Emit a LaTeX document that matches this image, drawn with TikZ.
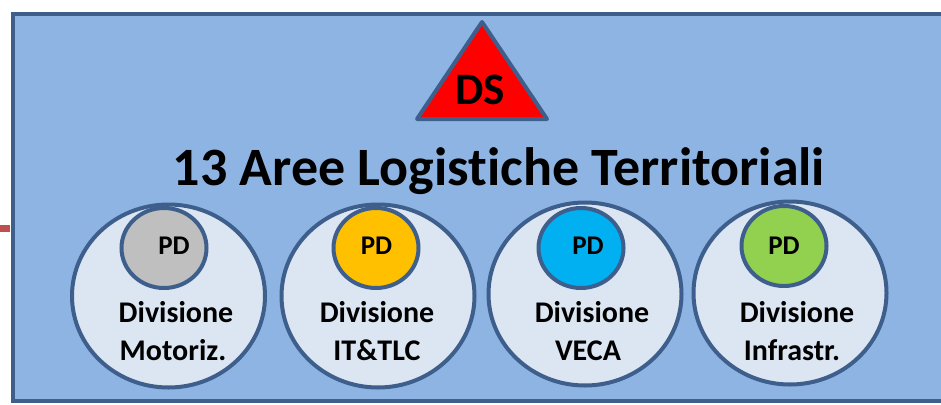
\documentclass[tikz,border=0pt]{standalone}
\usepackage{fontspec}
\setmainfont[Ligatures={NoCommon}]{Carlito}
\usetikzlibrary{shapes.geometric}
\definecolor{bgblue}{HTML}{8EB4E3}
\definecolor{edgeblue}{HTML}{3E5F8C}
\definecolor{paleblue}{HTML}{DCE6F2}
\definecolor{pdgray}{HTML}{BFBFBF}
\definecolor{pdyellow}{HTML}{FFC000}
\definecolor{pdcyan}{HTML}{00B0F0}
\definecolor{pdgreen}{HTML}{92D050}
\definecolor{stubred}{HTML}{C0504D}
\tikzset{
  frame/.style={draw=edgeblue, line width=4pt, fill=bgblue},
  bigcirc/.style={ellipse, draw=edgeblue, line width=4pt, fill=paleblue,
    minimum width=193pt, minimum height=183pt, inner sep=0pt},
  smallcirc/.style={ellipse, draw=edgeblue, line width=4pt,
    minimum width=85pt, minimum height=80pt, inner sep=0pt},
  pdtext/.style={font=\fontsize{27}{30}\selectfont\bfseries, inner sep=0pt},
  divtext/.style={font=\fontsize{30}{36}\selectfont\bfseries, anchor=base, inner sep=0pt},
}
\begin{document}
\begin{tikzpicture}[x=1pt,y=-1pt]
\useasboundingbox (0,0) rectangle (941,404);
\fill[stubred] (0,225) rectangle (10,232);
\path[frame] (13,14) rectangle (990,401);
% triangle
\coordinate (apex) at (482,22);
\coordinate (bl) at (417,119);
\coordinate (br) at (547,119);
\draw[edgeblue, line width=4pt, fill=red, line join=round] (apex) -- (br) -- (bl) -- cycle;
\node[font=\fontsize{45}{48}\selectfont\bfseries, inner sep=0pt] (ds) at (480,90) {DS};
% title
\node[font=\fontsize{54}{60}\selectfont\bfseries, anchor=base, inner sep=0pt] (title) at (499,185) {13 Aree Logistiche Territoriali};
% big circles
\node[bigcirc] (c1) at (168.5,296) {};
\node[bigcirc] (c2) at (378,296) {};
\node[bigcirc] (c3) at (585,294) {};
\node[bigcirc] (c4) at (790,293) {};
% small circles
\node[smallcirc, fill=pdgray]   (s1) at (164,248) {};
\node[smallcirc, fill=pdyellow] (s2) at (376,248) {};
\node[smallcirc, fill=pdcyan]   (s3) at (581,248) {};
\node[smallcirc, fill=pdgreen]  (s4) at (784,246) {};
\node[pdtext] (p1) at (174,246) {PD};
\node[pdtext] (p2) at (376.5,246) {PD};
\node[pdtext] (p3) at (588,246) {PD};
\node[pdtext] (p4) at (784,246) {PD};
% division labels
\node[divtext] (a1) at (176,322) {Divisione};
\node[divtext] (b1) at (173,360) {Motoriz.};
\node[divtext] (a2) at (377,322) {Divisione};
\node[divtext] (b2) at (377,360) {IT\&TLC};
\node[divtext] (a3) at (592,322) {Divisione};
\node[divtext] (b3) at (588,360) {VECA};
\node[divtext] (a4) at (797,322) {Divisione};
\node[divtext] (b4) at (792,360) {Infrastr.};
\end{tikzpicture}
\end{document}
